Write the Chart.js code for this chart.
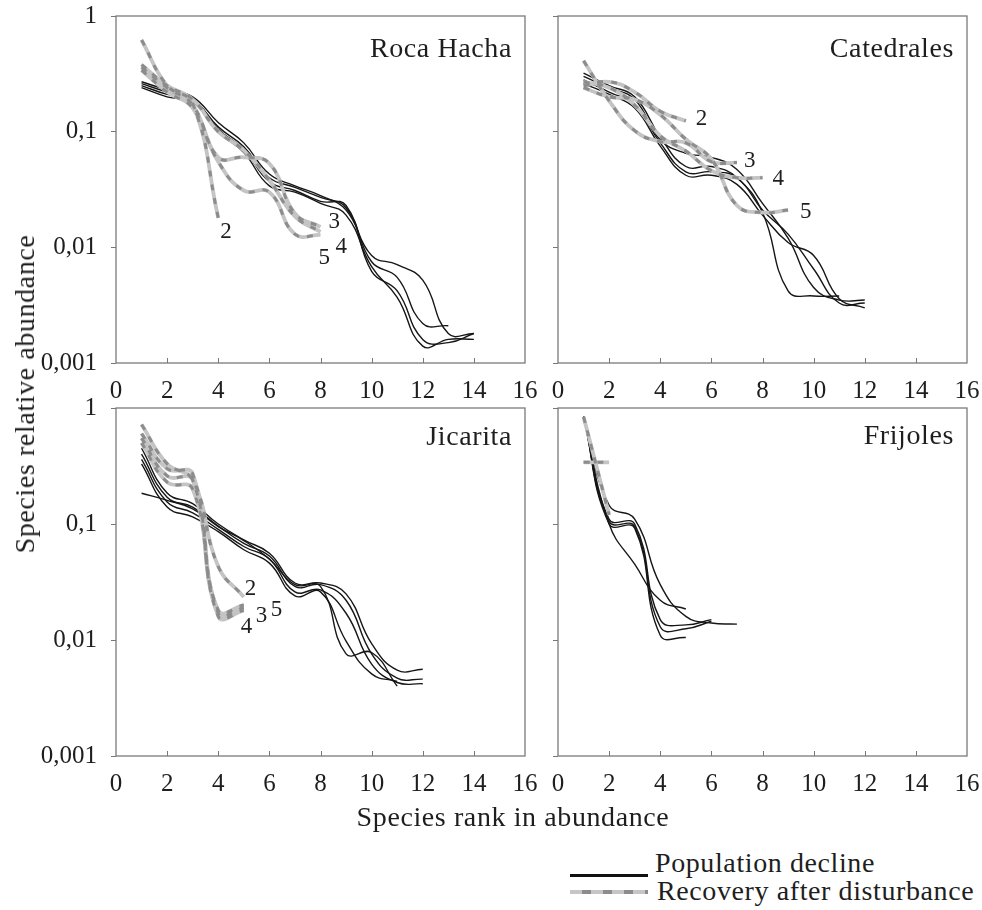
<!DOCTYPE html>
<html>
<head>
<meta charset="utf-8">
<script src="https://cdn.jsdelivr.net/npm/chart.js@4.4.1/dist/chart.umd.min.js"></script>
<style>
  body { margin: 0; background: #fff; width: 982px; height: 910px; position: relative; overflow: hidden;
         font-family: "Liberation Serif", "DejaVu Serif", serif; color: #1e1e1e; }
  canvas { position: absolute; }
  .big { position: absolute; font-size: 28px; line-height: 28px; letter-spacing: 0.6px; white-space: nowrap; }
  #ytitle { left: 25px; top: 394px; transform: translate(-50%, -50%) rotate(-90deg); }
  #xtitle { left: 513px; top: 803px; transform: translateX(-50%); }
  .key { position: absolute; left: 570px; width: 78px; }
</style>
</head>
<body>
<canvas id="c1" width="540" height="410" style="left:0;top:0"></canvas>
<canvas id="c2" width="442" height="410" style="left:540px;top:0"></canvas>
<canvas id="c3" width="540" height="410" style="left:0;top:392px"></canvas>
<canvas id="c4" width="442" height="410" style="left:540px;top:392px"></canvas>

<div id="ytitle" class="big">Species relative abundance</div>
<div id="xtitle" class="big">Species rank in abundance</div>

<div class="key" style="top:874px;height:3px;background:#111"></div>
<div class="big" style="left:655px;top:849px">Population decline</div>
<div class="key" style="top:890px;height:4px;background:repeating-linear-gradient(90deg,#c6c6c6 0 12px,#8c8c8c 12px 21px)"></div>
<div class="big" style="left:657px;top:877px">Recovery after disturbance</div>

<script>
// axis ticks
const xTicks = [0, 2, 4, 6, 8, 10, 12, 14, 16];
const yTicks = [0.001, 0.01, 0.1, 1];
const yTickLabels = ['0,001', '0,01', '0,1', '1'];

// values are relative abundance at rank 1, 2, 3...
// Roca Hacha
const rhDecA = [0.27, 0.23, 0.2, 0.12, 0.08, 0.043, 0.034, 0.028, 0.021, 0.0085, 0.0071, 0.0052, 0.0018, 0.0018];
const rhDecB = [0.26, 0.22, 0.19, 0.11, 0.074, 0.04, 0.033, 0.027, 0.022, 0.0075, 0.0055, 0.0022, 0.0021];
const rhDecC = [0.25, 0.21, 0.19, 0.105, 0.07, 0.037, 0.031, 0.025, 0.023, 0.0062, 0.0042, 0.0016, 0.0015, 0.0018];
const rhDecD = [0.24, 0.2, 0.18, 0.1, 0.066, 0.034, 0.03, 0.024, 0.019, 0.0068, 0.0037, 0.0014, 0.0016, 0.0016];
const rhRec2 = [0.62, 0.25, 0.175, 0.018];
const rhRec3 = [0.36, 0.24, 0.17, 0.06, 0.06, 0.053, 0.0196, 0.015];
const rhRec4 = [0.38, 0.25, 0.19, 0.1, 0.069, 0.038, 0.0185, 0.0136];
const rhRec5 = [0.34, 0.22, 0.16, 0.055, 0.031, 0.03, 0.013, 0.0128];

// Catedrales
const caDecA = [0.32, 0.25, 0.2, 0.09, 0.05, 0.05, 0.04, 0.02, 0.0042, 0.0038, 0.0038];
const caDecB = [0.3, 0.24, 0.19, 0.085, 0.065, 0.06, 0.047, 0.024, 0.012, 0.0045, 0.0035, 0.0035];
const caDecC = [0.28, 0.22, 0.17, 0.08, 0.045, 0.045, 0.04, 0.021, 0.013, 0.0065, 0.0033, 0.0033];
const caDecD = [0.26, 0.21, 0.16, 0.075, 0.042, 0.042, 0.035, 0.019, 0.011, 0.0085, 0.0036, 0.003];
const caRec2 = [0.25, 0.27, 0.22, 0.15, 0.124];
const caRec3 = [0.41, 0.185, 0.102, 0.082, 0.08, 0.055, 0.054];
const caRec4 = [0.27, 0.24, 0.17, 0.092, 0.068, 0.046, 0.04, 0.04];
const caRec5 = [0.24, 0.2, 0.19, 0.14, 0.086, 0.058, 0.023, 0.02, 0.021];

// Jicarita
const jiDecA = [0.184, 0.16, 0.135, 0.095, 0.072, 0.05, 0.03, 0.029, 0.0076, 0.0078, 0.004];
const jiDecB = [0.45, 0.185, 0.15, 0.1, 0.073, 0.056, 0.031, 0.031, 0.025, 0.0093, 0.0055, 0.0056];
const jiDecC = [0.4, 0.17, 0.14, 0.096, 0.068, 0.053, 0.029, 0.03, 0.022, 0.0076, 0.0047, 0.0046];
const jiDecD = [0.36, 0.155, 0.125, 0.09, 0.064, 0.05, 0.026, 0.027, 0.017, 0.0062, 0.0043, 0.0042];
const jiDecE = [0.33, 0.14, 0.115, 0.086, 0.06, 0.046, 0.024, 0.026, 0.0098, 0.0051, 0.0044];
const jiRec2 = [0.72, 0.33, 0.24, 0.043, 0.0235];
const jiRec3 = [0.6, 0.3, 0.27, 0.017, 0.019];
const jiRec4 = [0.55, 0.26, 0.24, 0.016, 0.018];
const jiRec5 = [0.5, 0.23, 0.2, 0.018, 0.02];

// Frijoles
const frDecA = [0.84, 0.145, 0.11, 0.03, 0.016, 0.014, 0.0137];
const frDecB = [0.84, 0.11, 0.1, 0.015, 0.0135, 0.015];
const frDecC = [0.84, 0.105, 0.095, 0.013, 0.0125, 0.0145];
const frDecD = [0.84, 0.1, 0.045, 0.022, 0.0185];
const frDecE = [0.84, 0.1, 0.092, 0.011, 0.0105];
const frRecA = [0.84, 0.12];
const frRecB = [0.34, 0.34];

const panels = [
  { id: 'c1', w: 540, plotLeft: 116, plotRight: 525, plotBottom: 363, showY: true, title: 'Roca Hacha', titleY: 41,
    decline: [rhDecA, rhDecB, rhDecC, rhDecD], recovery: [rhRec2, rhRec3, rhRec4, rhRec5],
    tags: [{ text: '2', s: rhRec2, dx: 8, dy: 14 }, { text: '3', s: rhRec3, dx: 14, dy: -5 },
           { text: '4', s: rhRec4, dx: 21, dy: 15 }, { text: '5', s: rhRec5, dx: 4, dy: 23 }] },
  { id: 'c2', w: 442, plotLeft: 18, plotRight: 427, plotBottom: 363, showY: false, title: 'Catedrales', titleY: 41,
    decline: [caDecA, caDecB, caDecC, caDecD], recovery: [caRec2, caRec3, caRec4, caRec5],
    tags: [{ text: '2', s: caRec2, dx: 16, dy: -2 }, { text: '3', s: caRec3, dx: 13, dy: -2 },
           { text: '4', s: caRec4, dx: 16, dy: 1 }, { text: '5', s: caRec5, dx: 18, dy: 2 }] },
  { id: 'c3', w: 540, plotLeft: 116, plotRight: 525, plotBottom: 364, showY: true, title: 'Jicarita', titleY: 37,
    decline: [jiDecA, jiDecB, jiDecC, jiDecD, jiDecE], recovery: [jiRec2, jiRec3, jiRec4, jiRec5],
    tags: [{ text: '2', s: jiRec2, dx: 7, dy: -8 }, { text: '3', s: jiRec3, dx: 18, dy: 8 },
           { text: '4', s: jiRec4, dx: 3, dy: 17 }, { text: '5', s: jiRec5, dx: 33, dy: 5 }] },
  { id: 'c4', w: 442, plotLeft: 18, plotRight: 427, plotBottom: 364, showY: false, title: 'Frijoles', titleY: 36,
    decline: [frDecA, frDecB, frDecC, frDecD, frDecE], recovery: [frRecA, frRecB], tags: [] }
];

const serif = '"Liberation Serif", "DejaVu Serif", serif';
const toPoints = vals => vals.map((v, i) => ({ x: i + 1, y: v }));

function makeDecor(p) {
  return {
    id: 'decor',
    afterDraw(chart) {
      const { ctx, chartArea: a, scales: { x, y } } = chart;
      ctx.save();
      // small inward ticks on the rank axis
      ctx.strokeStyle = '#777';
      ctx.lineWidth = 1;
      xTicks.slice(1, -1).forEach(v => {
        const px = Math.round(x.getPixelForValue(v)) + 0.5;
        ctx.beginPath();
        ctx.moveTo(px, a.bottom);
        ctx.lineTo(px, a.bottom - 5);
        ctx.stroke();
      });
      ctx.lineWidth = 1.3;
      ctx.strokeStyle = '#7a7a7a';
      ctx.strokeRect(a.left, a.top, a.right - a.left, a.bottom - a.top);

      ctx.fillStyle = '#1e1e1e';
      ctx.letterSpacing = '0.6px';
      ctx.font = '28px ' + serif;
      ctx.textAlign = 'right';
      ctx.fillText(p.title, a.right - 13, a.top + p.titleY);

      ctx.font = '23px ' + serif;
      ctx.textAlign = 'center';
      ctx.textBaseline = 'middle';
      p.tags.forEach(t => {
        const n = t.s.length;
        ctx.fillText(t.text, x.getPixelForValue(n) + t.dx, y.getPixelForValue(t.s[n - 1]) + t.dy);
      });
      ctx.restore();
    }
  };
}

panels.forEach(p => {
  const datasets = [];
  p.recovery.forEach(r => {
    datasets.push({ data: toPoints(r), borderColor: '#8c8c8c', borderWidth: 3, borderDash: [6, 8], order: 1 });
    datasets.push({ data: toPoints(r), borderColor: '#c4c4c4', borderWidth: 3.8, order: 2 });
  });
  p.decline.forEach(d => datasets.push({ data: toPoints(d), borderColor: '#161616', borderWidth: 1.4, order: 3 }));

  new Chart(document.getElementById(p.id), {
    type: 'line',
    data: { datasets },
    options: {
      responsive: false,
      animation: false,
      events: [],
      layout: { padding: { top: 16, right: p.w - p.plotRight, left: 0, bottom: 0 } },
      plugins: { legend: { display: false }, tooltip: { enabled: false } },
      elements: { point: { radius: 0 }, line: { tension: 0.45 } },
      scales: {
        x: {
          type: 'linear', min: 0, max: 16,
          afterBuildTicks: s => { s.ticks = xTicks.map(v => ({ value: v })); },
          afterFit: s => { s.height = 410 - p.plotBottom; s.paddingLeft = 0; s.paddingRight = 0; },
          grid: { display: false, drawTicks: false },
          border: { display: false },
          ticks: { padding: 13, autoSkip: false, maxRotation: 0, color: '#1e1e1e',
                   font: { family: serif, size: 25 }, callback: v => String(v) }
        },
        y: {
          type: 'logarithmic', min: 0.001, max: 1,
          afterBuildTicks: s => { s.ticks = yTicks.map(v => ({ value: v })); },
          afterFit: s => { s.width = p.plotLeft; s.paddingTop = 0; s.paddingBottom = 0; },
          grid: { drawOnChartArea: false, drawTicks: true, tickLength: 5, color: '#777' },
          border: { display: false },
          ticks: { display: p.showY, padding: 14, color: '#1e1e1e',
                   font: { family: serif, size: 25 }, callback: v => yTickLabels[yTicks.indexOf(v)] }
        }
      }
    },
    plugins: [makeDecor(p)]
  });
});
</script>
</body>
</html>
